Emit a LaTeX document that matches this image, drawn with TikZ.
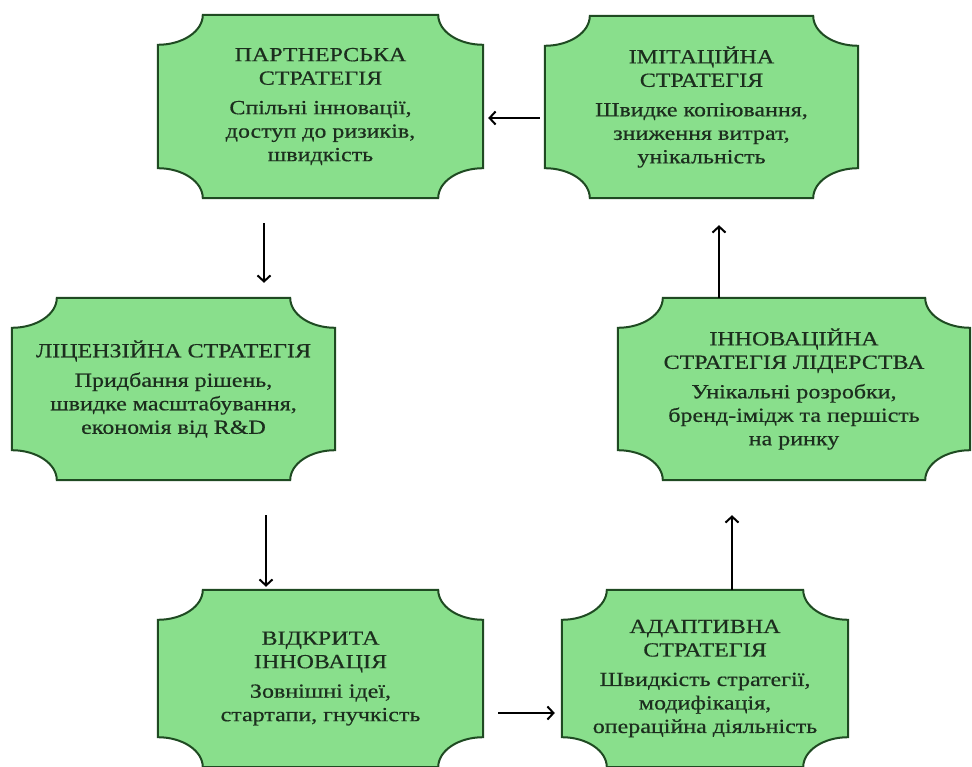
\documentclass[tikz,border=0pt]{standalone}
\usepackage{fontspec}
\setmainfont[FakeStretch=1.2, FakeBold=0.5]{Liberation Serif}
\usetikzlibrary{calc, arrows.meta, backgrounds}
\definecolor{Leaf}{HTML}{89DF8C}
\definecolor{Edge}{HTML}{1F4A22}
\definecolor{Ink}{HTML}{1C2E1E}
\tikzset{
    stratnode/.style={rectangle, inner sep=0pt, text=Ink, align=center, font=\fontsize{20}{23.5}\selectfont},
    cutedge/.style={fill=Leaf, draw=Edge, line width=2pt},
    flow/.style={-{Straight Barb[length=6pt, width=13pt]}, line width=2pt, color=black},
}

\begin{document}
\begin{tikzpicture}[x=1pt, y=1pt]
    \useasboundingbox (0,0) rectangle (972,-767);

    % Strategy boxes
    \node[stratnode, minimum width=325pt, minimum height=183pt] (part) at (320.5,-106.5)
        {ПАРТНЕРСЬКА\\СТРАТЕГІЯ\\[6pt]Спільні інновації,\\доступ до ризиків,\\швидкість};
    \node[stratnode, minimum width=313pt, minimum height=182pt] (imit) at (701.5,-107)
        {ІМІТАЦІЙНА\\СТРАТЕГІЯ\\[6pt]Швидке копіювання,\\зниження витрат,\\унікальність};
    \node[stratnode, minimum width=323pt, minimum height=182pt] (lic) at (173.5,-389)
        {ЛІЦЕНЗІЙНА СТРАТЕГІЯ\\[6pt]Придбання рішень,\\швидке масштабування,\\економія від R\&D};
    \node[stratnode, minimum width=352pt, minimum height=182pt] (lead) at (794,-389)
        {ІННОВАЦІЙНА\\СТРАТЕГІЯ ЛІДЕРСТВА\\[6pt]Унікальні розробки,\\бренд-імідж та першість\\на ринку};
    \node[stratnode, minimum width=325pt, minimum height=177pt] (open) at (320.5,-678.5)
        {ВІДКРИТА\\ІННОВАЦІЯ\\[6pt]Зовнішні ідеї,\\стартапи, гнучкість};
    \node[stratnode, minimum width=286pt, minimum height=177pt] (adapt) at (705,-678.5)
        {АДАПТИВНА\\СТРАТЕГІЯ\\[6pt]Швидкість стратегії,\\модифікація,\\операційна діяльність};

    % Concave-corner outlines behind the text
    \begin{scope}[on background layer]
        \foreach \n in {part, imit, lic, lead, open, adapt} {
            \draw[cutedge] ([xshift=45pt]\n.north west) -- ([xshift=-45pt]\n.north east)
                arc[start angle=180, end angle=270, x radius=45pt, y radius=30pt]
                -- ([yshift=30pt]\n.south east)
                arc[start angle=90, end angle=180, x radius=45pt, y radius=30pt]
                -- ([xshift=45pt]\n.south west)
                arc[start angle=0, end angle=90, x radius=45pt, y radius=30pt]
                -- ([yshift=-30pt]\n.north west)
                arc[start angle=270, end angle=360, x radius=45pt, y radius=30pt]
                -- cycle;
        }
    \end{scope}

    % Arrows
    \draw[flow] ([shift={(-5,-11)}]imit.west) -- ([shift={(5,-11.5)}]part.east);
    \draw[flow] ([shift={(-56.5,-25)}]part.south) -- ([shift={(90.5,15)}]lic.north);
    \draw[flow] ([shift={(92.5,-35)}]lic.south) -- ([shift={(-54.5,3)}]open.north);
    \draw[flow] ([shift={(15,-34.5)}]open.east) -- ([shift={(-7,-34.5)}]adapt.west);
    \draw[flow] ([xshift=27]adapt.north) -- ([shift={(-62,-35)}]lead.south);
    \draw[flow] ([xshift=-75]lead.north) -- ([shift={(17.5,-27)}]imit.south);
\end{tikzpicture}
\end{document}
